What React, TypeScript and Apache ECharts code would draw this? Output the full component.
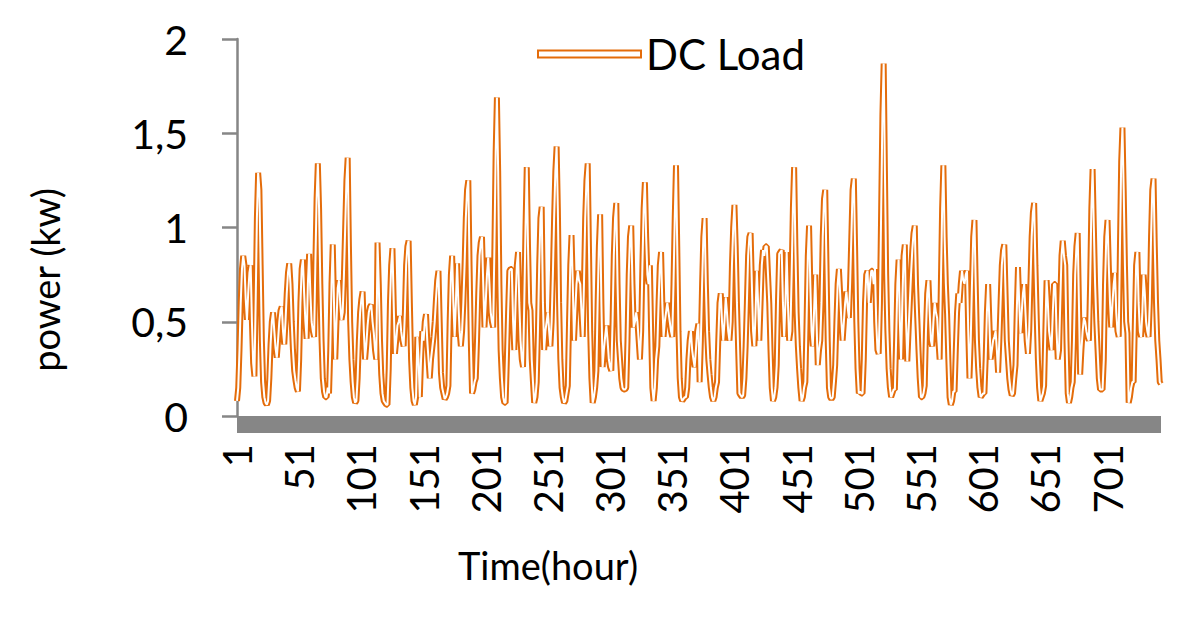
import React, { useEffect, useRef } from 'react';
import * as echarts from 'echarts';

// hourly DC load (kW), one row per day
const week1 = [
  0.08, 0.15, 0.35, 0.6, 0.78, 0.85, 0.8, 0.62, 0.51, 0.65, 0.76, 0.8, 0.5, 0.28, 0.21, 0.6, 1.05, 1.29, 1.2, 0.8, 0.4, 0.18, 0.1, 0.07,
  0.06, 0.08, 0.2, 0.38, 0.5, 0.55, 0.45, 0.36, 0.31, 0.4, 0.5, 0.56, 0.58, 0.45, 0.38, 0.5, 0.65, 0.76, 0.81, 0.7, 0.5, 0.35, 0.24, 0.19,
  0.15, 0.13, 0.3, 0.6, 0.78, 0.83, 0.65, 0.5, 0.41, 0.7, 0.86, 0.65, 0.5, 0.45, 0.42, 0.8, 1.15, 1.34, 1.1, 0.7, 0.4, 0.2, 0.13, 0.1,
  0.1, 0.15, 0.12, 0.35, 0.7, 0.91, 0.6, 0.3, 0.5, 0.68, 0.72, 0.6, 0.51, 0.55, 0.75, 1.0, 1.25, 1.37, 0.9, 0.5, 0.3, 0.18, 0.1, 0.07,
  0.08, 0.2, 0.4, 0.55, 0.62, 0.66, 0.45, 0.3, 0.38, 0.48, 0.55, 0.58, 0.59, 0.5, 0.44, 0.35, 0.3, 0.92, 0.7, 0.4, 0.22, 0.12, 0.08, 0.07,
  0.06, 0.06, 0.25, 0.6, 0.8, 0.89, 0.6, 0.33, 0.4, 0.48, 0.5, 0.53, 0.45, 0.4, 0.37, 0.55, 0.8, 0.9, 0.93, 0.6, 0.3, 0.15, 0.08, 0.06,
  0.1, 0.42, 0.3, 0.1, 0.3, 0.45, 0.4, 0.5, 0.54, 0.4, 0.3, 0.2, 0.3, 0.36, 0.42, 0.5, 0.62, 0.72, 0.77, 0.5, 0.23, 0.15, 0.12, 0.09,
];
const week2 = [
  0.1, 0.12, 0.16, 0.5, 0.75, 0.85, 0.6, 0.42, 0.6, 0.81, 0.6, 0.45, 0.37, 0.45, 0.6, 0.8, 1.05, 1.2, 1.25, 0.8, 0.4, 0.12, 0.14, 0.18,
  0.2, 0.4, 0.65, 0.85, 0.92, 0.95, 0.7, 0.47, 0.6, 0.75, 0.84, 0.7, 0.55, 0.5, 0.47, 0.9, 1.4, 1.69, 1.3, 0.7, 0.35, 0.2, 0.1, 0.07,
  0.07, 0.3, 0.55, 0.77, 0.78, 0.78, 0.5, 0.35, 0.6, 0.8, 0.87, 0.6, 0.4, 0.3, 0.26, 0.6, 1.0, 1.32, 0.9, 0.6, 0.56, 0.3, 0.18, 0.07,
  0.1, 0.18, 0.45, 0.8, 1.05, 1.11, 0.6, 0.35, 0.45, 0.5, 0.55, 0.45, 0.37, 0.5, 0.75, 1.05, 1.3, 1.43, 1.1, 0.6, 0.3, 0.15, 0.1, 0.07,
  0.08, 0.12, 0.16, 0.5, 0.8, 0.96, 0.7, 0.4, 0.55, 0.7, 0.77, 0.72, 0.7, 0.55, 0.42, 0.7, 1.05, 1.25, 1.34, 0.9, 0.45, 0.2, 0.07, 0.1,
  0.15, 0.24, 0.6, 0.9, 1.07, 0.6, 0.26, 0.35, 0.42, 0.48, 0.4, 0.3, 0.26, 0.24, 0.5, 0.85, 1.05, 1.13, 0.7, 0.4, 0.3, 0.2, 0.15, 0.14,
  0.14, 0.15, 0.4, 0.75, 0.95, 1.01, 0.7, 0.47, 0.5, 0.55, 0.5, 0.4, 0.3, 0.45, 0.8, 1.1, 1.24, 0.95, 0.75, 0.7, 0.8, 0.45, 0.15, 0.08,
];
const week3 = [
  0.15, 0.3, 0.37, 0.6, 0.8, 0.87, 0.6, 0.42, 0.5, 0.55, 0.6, 0.55, 0.5, 0.45, 0.42, 0.7, 1.05, 1.33, 0.9, 0.45, 0.2, 0.1, 0.08, 0.09,
  0.1, 0.1, 0.15, 0.3, 0.4, 0.45, 0.35, 0.3, 0.26, 0.35, 0.45, 0.49, 0.18, 0.4, 0.7, 0.95, 1.05, 0.7, 0.45, 0.3, 0.22, 0.15, 0.1, 0.08,
  0.1, 0.15, 0.18, 0.4, 0.6, 0.65, 0.5, 0.4, 0.5, 0.63, 0.55, 0.45, 0.4, 0.5, 0.8, 1.0, 1.12, 0.9, 0.6, 0.35, 0.12, 0.11, 0.1, 0.11,
  0.2, 0.37, 0.6, 0.85, 0.95, 0.97, 0.7, 0.45, 0.37, 0.55, 0.77, 0.6, 0.4, 0.6, 0.8, 0.88, 0.85, 0.9, 0.9, 0.75, 0.6, 0.35, 0.15, 0.08,
  0.1, 0.15, 0.27, 0.6, 0.86, 0.87, 0.88, 0.6, 0.42, 0.6, 0.87, 0.6, 0.4, 0.45, 0.75, 1.1, 1.32, 0.9, 0.55, 0.37, 0.25, 0.15, 0.08, 0.1,
  0.15, 0.18, 0.5, 0.85, 1.01, 0.7, 0.45, 0.37, 0.55, 0.75, 0.5, 0.27, 0.35, 0.4, 0.6, 0.95, 1.15, 1.2, 0.8, 0.4, 0.15, 0.1, 0.09, 0.1,
  0.18, 0.27, 0.5, 0.7, 0.78, 0.65, 0.5, 0.4, 0.5, 0.6, 0.66, 0.58, 0.52, 0.7, 0.95, 1.2, 1.26, 0.9, 0.5, 0.25, 0.12, 0.13, 0.12, 0.12,
];
const week4 = [
  0.3, 0.6, 0.75, 0.77, 0.6, 0.7, 0.77, 0.77, 0.7, 0.78, 0.5, 0.35, 0.33, 0.6, 1.1, 1.6, 1.87, 1.3, 0.75, 0.45, 0.25, 0.15, 0.1, 0.12,
  0.14, 0.14, 0.4, 0.7, 0.83, 0.5, 0.3, 0.6, 0.85, 0.91, 0.5, 0.29, 0.45, 0.6, 0.75, 0.88, 0.97, 1.01, 0.7, 0.52, 0.35, 0.2, 0.1, 0.1,
  0.12, 0.16, 0.45, 0.65, 0.72, 0.55, 0.4, 0.37, 0.5, 0.6, 0.55, 0.52, 0.4, 0.3, 0.7, 1.1, 1.33, 0.95, 0.7, 0.54, 0.3, 0.1, 0.06, 0.08,
  0.13, 0.13, 0.35, 0.55, 0.65, 0.6, 0.7, 0.77, 0.72, 0.7, 0.75, 0.77, 0.45, 0.2, 0.4, 0.7, 0.95, 1.04, 0.7, 0.4, 0.25, 0.15, 0.1, 0.11,
  0.12, 0.12, 0.3, 0.55, 0.7, 0.5, 0.3, 0.35, 0.4, 0.42, 0.45, 0.35, 0.23, 0.4, 0.6, 0.8, 0.88, 0.91, 0.65, 0.4, 0.3, 0.2, 0.14, 0.11,
  0.12, 0.2, 0.27, 0.55, 0.79, 0.6, 0.44, 0.55, 0.65, 0.7, 0.55, 0.4, 0.33, 0.45, 0.7, 0.95, 1.08, 1.13, 0.8, 0.54, 0.3, 0.15, 0.08, 0.1,
  0.12, 0.16, 0.45, 0.72, 0.6, 0.45, 0.4, 0.35, 0.55, 0.7, 0.7, 0.45, 0.3, 0.35, 0.6, 0.85, 0.93, 0.85, 0.8, 0.4, 0.12, 0.07, 0.1, 0.15,
];
const week5 = [
  0.18, 0.4, 0.75, 0.9, 0.97, 0.6, 0.22, 0.35, 0.45, 0.52, 0.5, 0.45, 0.42, 0.4, 0.7, 1.1, 1.31, 1.0, 0.7, 0.5, 0.35, 0.2, 0.14, 0.14,
  0.14, 0.3, 0.7, 0.95, 1.04, 0.8, 0.6, 0.47, 0.6, 0.7, 0.76, 0.55, 0.45, 0.42, 0.9, 1.35, 1.53, 1.2, 0.8, 0.5, 0.44, 0.07, 0.1, 0.15,
  0.18, 0.18, 0.5, 0.8, 0.87, 0.6, 0.45, 0.42, 0.55, 0.75, 0.65, 0.5, 0.45, 0.42, 0.6, 0.95, 1.2, 1.26, 0.9, 0.6, 0.4, 0.3, 0.18, 0.17,
];

const loadData = [...week1, ...week2, ...week3, ...week4, ...week5];
const hours = loadData.map((_, i) => String(i + 1));
const yTickLabels = ['0', '0,5', '1', '1,5', '2'];

const ORANGE = '#E46C0A';
const AXIS_GRAY = '#868686';
const FONT = 'Lato, "Open Sans", sans-serif';

const App: React.FC = () => {
  const chartRef = useRef<HTMLDivElement>(null);

  useEffect(() => {
    document.body.style.margin = '0';
    if (!chartRef.current) return;
    const chart = echarts.init(chartRef.current, undefined, { renderer: 'svg' });

    chart.setOption({
      animation: false,
      backgroundColor: '#fff',
      textStyle: { fontFamily: FONT },
      grid: { left: 237, right: 39, top: 39, bottom: 211 },
      legend: {
        left: 532,
        top: 28,
        itemWidth: 103,
        itemHeight: 7,
        data: [
          {
            name: 'DC Load',
            icon: 'rect',
            itemStyle: { color: '#fff', borderColor: ORANGE, borderWidth: 2 },
          },
        ],
        textStyle: { fontSize: 42, color: '#000', fontFamily: FONT },
      },
      xAxis: {
        type: 'category',
        boundaryGap: false,
        data: hours,
        offset: 8,
        axisLine: { onZero: false, lineStyle: { color: AXIS_GRAY, width: 17, cap: 'butt' } },
        axisTick: { show: false },
        axisLabel: {
          interval: 49,
          rotate: 90,
          margin: 20,
          fontSize: 40,
          color: '#000',
          fontFamily: FONT,
        },
        splitLine: { show: false },
      },
      yAxis: {
        type: 'value',
        min: 0,
        max: 2,
        interval: 0.5,
        axisLine: { show: true, lineStyle: { color: AXIS_GRAY, width: 2.5 } },
        axisTick: { show: true, length: 15, lineStyle: { color: AXIS_GRAY, width: 2.5 } },
        axisLabel: {
          margin: 49,
          fontSize: 41,
          color: '#000',
          fontFamily: FONT,
          formatter: (v: number) => yTickLabels[Math.round(v / 0.5)],
        },
        splitLine: { show: false },
      },
      graphic: [
        {
          type: 'text',
          x: 45,
          y: 280,
          rotation: Math.PI / 2,
          style: {
            text: 'power (kw)',
            fontSize: 38,
            fontFamily: FONT,
            fill: '#000',
            align: 'center',
            verticalAlign: 'middle',
          },
        },
        {
          type: 'text',
          x: 548,
          y: 565,
          style: {
            text: 'Time(hour)',
            fontSize: 38,
            fontFamily: FONT,
            fill: '#000',
            align: 'center',
            verticalAlign: 'middle',
          },
        },
      ],
      series: [
        {
          name: 'DC Load',
          type: 'line',
          data: loadData,
          showSymbol: false,
          symbol: 'none',
          silent: true,
          lineStyle: { color: ORANGE, width: 6 },
          itemStyle: { color: ORANGE },
        },
        {
          name: 'inner',
          type: 'line',
          data: loadData,
          showSymbol: false,
          symbol: 'none',
          silent: true,
          lineStyle: { color: '#fff', width: 2 },
        },
      ],
    });

    return () => {
      chart.dispose();
    };
  }, []);

  return <div ref={chartRef} style={{ width: 1200, height: 627 }} />;
};

export default App;
